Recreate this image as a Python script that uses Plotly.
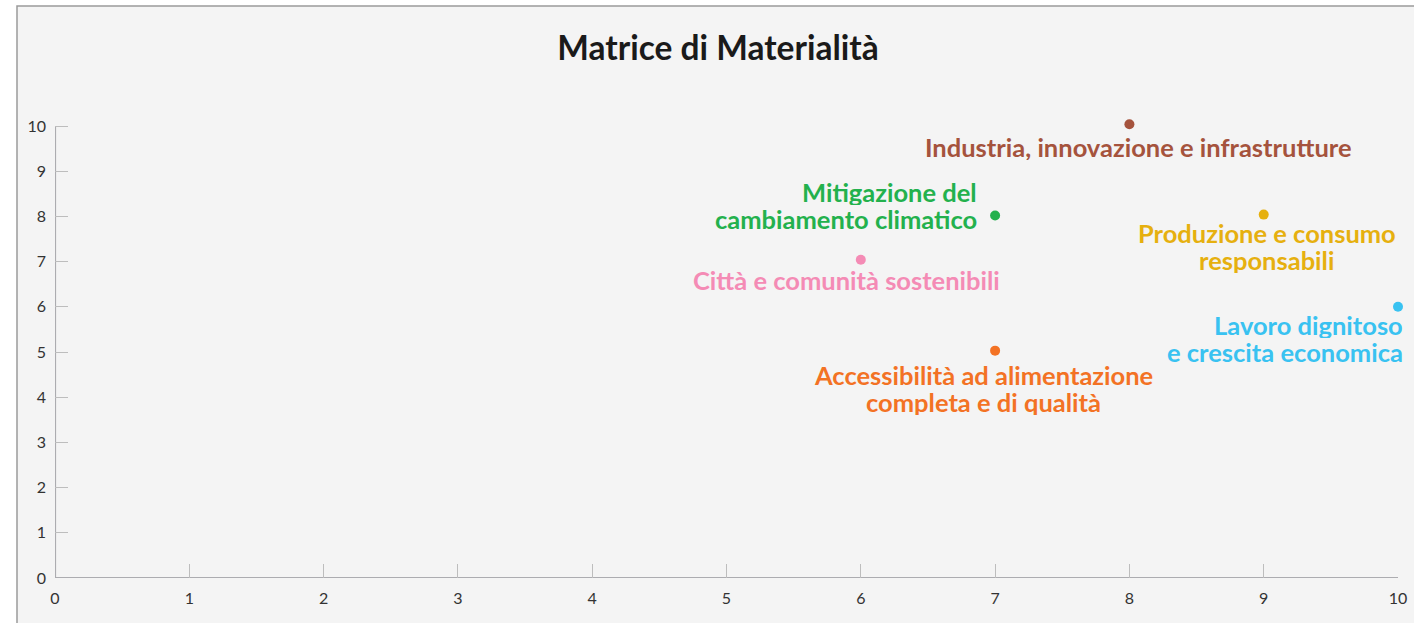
import plotly.graph_objects as go

# ---- data ----
topics = [
    "Industria, innovazione e infrastrutture",
    "Mitigazione del<br>cambiamento climatico",
    "Produzione e consumo<br>responsabili",
    "Città e comunità sostenibili",
    "Lavoro dignitoso<br>e crescita economica",
    "Accessibilità ad alimentazione<br>completa e di qualità",
]
x_vals = [8, 7, 9, 6, 10, 7]
y_vals = [10.04, 8.02, 8.04, 7.04, 6.0, 5.03]
colors = ["#a5533d", "#23b14d", "#e6b00f", "#f48bb5", "#39c2f1", "#f37224"]
tick_vals = list(range(0, 11))
tick_text = [str(v) for v in tick_vals]

# label placement (styles only)
lab_xanchor = ["center", "right", "center", "center", "right", "center"]
lab_xshift = [9, -16, 3, -14, 7, -12]
lab_yshift = [-23, 10, -32, -20, -32, -38]
LINE_GAP = 27
LAB_SIZE = 25.5

fig = go.Figure()
fig.add_trace(go.Scatter(
    x=x_vals, y=y_vals, mode="markers",
    marker=dict(size=10, color=colors),
    cliponaxis=False, hoverinfo="skip", showlegend=False,
))

for i, t in enumerate(topics):
    lines = t.split("<br>")
    n = len(lines)
    for k, line in enumerate(lines):
        fig.add_annotation(
            x=x_vals[i], y=y_vals[i], xref="x", yref="y",
            text=line, showarrow=False,
            xanchor=lab_xanchor[i], yanchor="middle",
            xshift=lab_xshift[i],
            yshift=lab_yshift[i] - (k - (n - 1) / 2) * LINE_GAP,
            height=LINE_GAP - 1, valign="middle",
            font=dict(family="Lato", size=LAB_SIZE, color=colors[i], weight="bold"),
        )

# background frame
L, R, T, B = 55, 16, 117, 45
W, H = 1414, 623
pw, ph = W - L - R, H - T - B
fig.add_shape(
    type="rect", xref="paper", yref="paper", layer="below",
    x0=(17 - L) / pw, x1=(W + 20 - L) / pw,
    y0=-(B + 20) / ph, y1=(H - B - 6) / ph,
    fillcolor="#f4f4f4", line=dict(color="#9a9a9a", width=1.5),
)
# axis lines (0..10)
axis_col = "#acacb0"
fig.add_shape(type="line", xref="x", yref="y", x0=tick_vals[0], x1=tick_vals[-1],
              y0=0, y1=0, line=dict(color=axis_col, width=2.2), layer="below")
fig.add_shape(type="line", xref="x", yref="y", x0=0, x1=0,
              y0=tick_vals[0], y1=tick_vals[-1], line=dict(color=axis_col, width=2.2), layer="below")

fig.update_layout(
    width=W, height=H, autosize=False,
    margin=dict(l=L, r=R, t=T, b=B, pad=0, autoexpand=False),
    paper_bgcolor="white", plot_bgcolor="rgba(0,0,0,0)",
    title=dict(
        text="<b>Matrice di Materialità</b>",
        x=718 / W, xanchor="center", xref="container",
        y=1 - 48 / H, yanchor="middle", yref="container",
        font=dict(family="Lato", size=33.5, color="#1a1a1a"),
    ),
    xaxis=dict(
        range=[0, 10], tickvals=tick_vals, ticktext=tick_text,
        showgrid=False, zeroline=False, showline=False, automargin=False,
        ticks="inside", ticklen=14, tickcolor="#bdbdbd", tickwidth=1,
        ticklabelstandoff=9,
        tickfont=dict(family="Lato", size=16, color="#333333"),
        fixedrange=True,
    ),
    yaxis=dict(
        range=[0, 10.2], tickvals=tick_vals, ticktext=tick_text,
        showgrid=False, zeroline=False, showline=False, automargin=False,
        ticks="inside", ticklen=13, tickcolor="#bdbdbd", tickwidth=1,
        ticklabelstandoff=8,
        tickfont=dict(family="Lato", size=16, color="#333333"),
        fixedrange=True,
    ),
)

fig.write_html("out.html", config={"displayModeBar": False},
               post_script="document.body.style.margin='0';")
